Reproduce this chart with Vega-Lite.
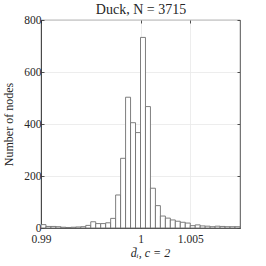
{
  "$schema": "https://vega.github.io/schema/vega-lite/v6.json",
  "autosize": {"type": "none"},
  "width": 199,
  "height": 208,
  "padding": {"left": 41, "top": 20, "right": 26, "bottom": 38},
  "background": "white",
  "data": {"values": [
    {"x0": 0.9900, "x1": 0.9905, "count": 13},
    {"x0": 0.9905, "x1": 0.9910, "count": 6},
    {"x0": 0.9910, "x1": 0.9915, "count": 6},
    {"x0": 0.9915, "x1": 0.9920, "count": 5},
    {"x0": 0.9920, "x1": 0.9925, "count": 3},
    {"x0": 0.9925, "x1": 0.9930, "count": 2},
    {"x0": 0.9930, "x1": 0.9935, "count": 3},
    {"x0": 0.9935, "x1": 0.9940, "count": 4},
    {"x0": 0.9940, "x1": 0.9945, "count": 5},
    {"x0": 0.9945, "x1": 0.9950, "count": 10},
    {"x0": 0.9950, "x1": 0.9955, "count": 24},
    {"x0": 0.9955, "x1": 0.9960, "count": 17},
    {"x0": 0.9960, "x1": 0.9965, "count": 17},
    {"x0": 0.9965, "x1": 0.9970, "count": 20},
    {"x0": 0.9970, "x1": 0.9975, "count": 37},
    {"x0": 0.9975, "x1": 0.9980, "count": 127},
    {"x0": 0.9980, "x1": 0.9985, "count": 268},
    {"x0": 0.9985, "x1": 0.9990, "count": 503},
    {"x0": 0.9990, "x1": 0.9995, "count": 405},
    {"x0": 0.9995, "x1": 1.0000, "count": 367},
    {"x0": 1.0000, "x1": 1.0005, "count": 733},
    {"x0": 1.0005, "x1": 1.0010, "count": 467},
    {"x0": 1.0010, "x1": 1.0015, "count": 153},
    {"x0": 1.0015, "x1": 1.0020, "count": 86},
    {"x0": 1.0020, "x1": 1.0025, "count": 46},
    {"x0": 1.0025, "x1": 1.0030, "count": 38},
    {"x0": 1.0030, "x1": 1.0035, "count": 31},
    {"x0": 1.0035, "x1": 1.0040, "count": 26},
    {"x0": 1.0040, "x1": 1.0045, "count": 22},
    {"x0": 1.0045, "x1": 1.0050, "count": 19},
    {"x0": 1.0050, "x1": 1.0055, "count": 9},
    {"x0": 1.0055, "x1": 1.0060, "count": 12},
    {"x0": 1.0060, "x1": 1.0065, "count": 8},
    {"x0": 1.0065, "x1": 1.0070, "count": 7},
    {"x0": 1.0070, "x1": 1.0075, "count": 5},
    {"x0": 1.0075, "x1": 1.0080, "count": 7},
    {"x0": 1.0080, "x1": 1.0085, "count": 6},
    {"x0": 1.0085, "x1": 1.0090, "count": 5},
    {"x0": 1.0090, "x1": 1.0095, "count": 5},
    {"x0": 1.0095, "x1": 1.0100, "count": 5}
  ]},
  "layer": [
    {
      "mark": {"type": "bar", "fill": "white", "stroke": "#707070", "strokeWidth": 0.9},
      "encoding": {
        "x": {"field": "x0", "type": "quantitative",
          "scale": {"domain": [0.99, 1.01], "nice": false, "zero": false},
          "axis": {"orient": "bottom", "values": [0.99, 1, 1.005], "labelExpr": "datum.value == 1 ? '1' : format(datum.value, '.3~f')", "title": "d̄ᵢ, c = 2", "titleFontStyle": "italic", "titlePadding": 3, "titleX": 109, "grid": true, "labelFlush": false, "labelPadding": 8}},
        "x2": {"field": "x1"},
        "y": {"field": "count", "type": "quantitative",
          "scale": {"domain": [0, 800], "nice": false},
          "axis": {"orient": "left", "values": [0, 200, 400, 600, 800], "title": "Number of nodes", "grid": true, "titlePadding": 8}},
        "y2": {"datum": 0}
      }
    },
    {
      "mark": {"type": "bar", "opacity": 0},
      "encoding": {
        "x": {"field": "x0", "type": "quantitative",
          "axis": {"orient": "top", "values": [0.99, 1, 1.005], "labels": false, "title": "Duck, N = 3715", "titleFontSize": 14, "titlePadding": 3, "grid": false, "domain": false}},
        "x2": {"field": "x1"},
        "y": {"field": "count", "type": "quantitative",
          "axis": {"orient": "right", "values": [0, 200, 400, 600, 800], "labels": false, "title": null, "grid": false, "domain": false}},
        "y2": {"datum": 0}
      }
    }
  ],
  "resolve": {"axis": {"x": "independent", "y": "independent"}},
  "config": {
    "view": {"stroke": "#262626", "strokeWidth": 0.8},
    "axis": {
      "domainColor": "#262626", "domainWidth": 0.8,
      "tickColor": "#262626", "tickSize": -3, "tickWidth": 0.8,
      "gridColor": "#e8e8e8", "gridWidth": 0.8,
      "labelFont": "Liberation Serif", "labelFontSize": 11.5, "labelColor": "#262626", "labelPadding": 3,
      "titleFont": "Liberation Serif", "titleFontSize": 12, "titleFontWeight": "normal", "titleColor": "#262626"
    }
  }
}
